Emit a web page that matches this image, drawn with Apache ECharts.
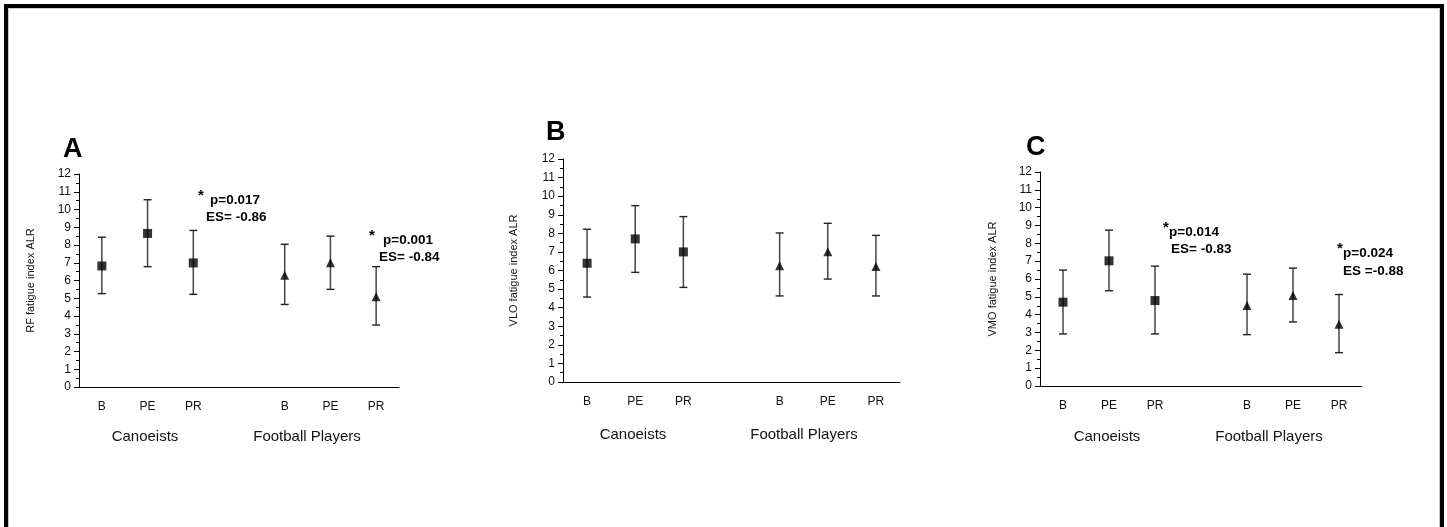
<!DOCTYPE html>
<html>
<head>
<meta charset="utf-8">
<script src="https://cdn.jsdelivr.net/npm/echarts@6/dist/echarts.min.js"></script>
<style>
  html, body { margin: 0; padding: 0; background: #fff; }
  #frame {
    position: absolute; left: 4px; top: 4px; width: 1432px; height: 522px;
    border: 4px solid #000; border-bottom: none;
  }
  #inner {
    position: absolute; left: 0; top: 0; right: 0; bottom: 0;
    border: 1px solid #c8c8c8; border-top-color: #d0d0d0;
  }
  #chart { position: absolute; left: 0; top: 0; width: 1447px; height: 527px; }
</style>
</head>
<body>
<div id="frame"><div id="inner"></div></div>
<div id="chart"></div>
<script>
// x categories: index 3 is the gap between the two groups
const categories = ['B', 'PE', 'PR', '', 'B', 'PE', 'PR'];
const slots = [0, 1, 2, 4, 5, 6];
const groups = ['Canoeists', 'Football Players'];

// panel A: RF
const rfMean = [6.82, 8.65, 6.99, 6.29, 7.0, 5.09];
const rfLow = [5.26, 6.78, 5.22, 4.65, 5.5, 3.49];
const rfHigh = [8.44, 10.55, 8.82, 8.04, 8.5, 6.78];

// panel B: VLO
const vloMean = [6.39, 7.7, 7.0, 6.26, 7.01, 6.21];
const vloLow = [4.57, 5.9, 5.09, 4.63, 5.54, 4.63];
const vloHigh = [8.22, 9.49, 8.9, 8.02, 8.54, 7.89];

// panel C: VMO
const vmoMean = [4.7, 7.02, 4.79, 4.51, 5.07, 3.46];
const vmoLow = [2.92, 5.34, 2.92, 2.88, 3.59, 1.87];
const vmoHigh = [6.5, 8.74, 6.72, 6.27, 6.61, 5.13];

const fontFamily = "'Liberation Sans', Arial, sans-serif";

const panels = [
  {
    letter: 'A', name: 'RF fatigue index ALR', mean: rfMean, low: rfLow, high: rfHigh,
    grid: { left: 79, top: 174, width: 320, height: 213 }, nameGap: 43,
    letterPos: [63, 150], groupPos: [[145, 437], [307, 437]],
    notes: [
      { star: [198, 196], lines: [[210, 200, 'p=0.017'], [206, 217, 'ES= -0.86']] },
      { star: [369, 236], lines: [[383, 240, 'p=0.001'], [379, 257, 'ES= -0.84']] },
    ],
  },
  {
    letter: 'B', name: 'VLO fatigue index ALR', mean: vloMean, low: vloLow, high: vloHigh,
    grid: { left: 563, top: 159, width: 337, height: 223 }, nameGap: 44,
    letterPos: [546, 133], groupPos: [[633, 435], [804, 435]],
    notes: [],
  },
  {
    letter: 'C', name: 'VMO fatigue index ALR', mean: vmoMean, low: vmoLow, high: vmoHigh,
    grid: { left: 1040, top: 172, width: 322, height: 214 }, nameGap: 42,
    letterPos: [1026, 148], groupPos: [[1107, 437], [1269, 437]],
    notes: [
      { star: [1163, 228], lines: [[1169, 232, 'p=0.014'], [1171, 249, 'ES= -0.83']] },
      { star: [1337, 249], lines: [[1343, 253, 'p=0.024'], [1343, 271, 'ES =-0.88']] },
    ],
  },
];

const chart = echarts.init(document.getElementById('chart'));

const grid = [];
const xAxis = [];
const yAxis = [];
const series = [];
const graphic = [];

const errorBar = (params, api) => {
  const x = api.value(0);
  const lo = api.coord([x, api.value(1)]);
  const hi = api.coord([x, api.value(2)]);
  const half = 4;
  const style = { stroke: '#222', lineWidth: 1.4 };
  return {
    type: 'group',
    children: [
      { type: 'line', shape: { x1: lo[0], y1: lo[1], x2: hi[0], y2: hi[1] }, style: { stroke: '#444', lineWidth: 1.5 } },
      { type: 'line', shape: { x1: hi[0] - half, y1: hi[1], x2: hi[0] + half, y2: hi[1] }, style },
      { type: 'line', shape: { x1: lo[0] - half, y1: lo[1], x2: lo[0] + half, y2: lo[1] }, style },
    ],
  };
};

panels.forEach((p, i) => {
  grid.push(p.grid);
  xAxis.push({
    gridIndex: i,
    type: 'category',
    data: categories,
    axisLine: { lineStyle: { color: '#000', width: 1 } },
    axisTick: {
      alignWithLabel: true,
      length: 7,
      interval: (idx, val) => val !== '',
      lineStyle: { color: '#000' },
    },
    axisLabel: { color: '#111', fontSize: 12, margin: 14, fontFamily, interval: 0 },
    splitLine: { show: false },
  });
  yAxis.push({
    gridIndex: i,
    type: 'value',
    min: 0,
    max: 12,
    interval: 1,
    name: p.name,
    nameLocation: 'middle',
    nameGap: p.nameGap,
    nameTextStyle: { color: '#111', fontSize: 11, fontFamily },
    axisLine: { show: true, lineStyle: { color: '#000', width: 1 } },
    axisTick: { show: true, length: 5, lineStyle: { color: '#000' } },
    minorTick: { show: true, splitNumber: 2, length: 3, lineStyle: { color: '#000' } },
    axisLabel: { color: '#111', fontSize: 12, margin: 8, fontFamily },
    splitLine: { show: false },
  });

  const bars = slots.map((s, k) => [s, p.low[k], p.high[k]]);
  series.push({
    type: 'custom',
    xAxisIndex: i,
    yAxisIndex: i,
    renderItem: errorBar,
    data: bars,
    z: 2,
    silent: true,
  });
  series.push({
    type: 'scatter',
    xAxisIndex: i,
    yAxisIndex: i,
    symbol: 'rect',
    symbolSize: 9,
    itemStyle: { color: '#000' },
    data: slots.slice(0, 3).map((s, k) => [s, p.mean[k]]),
    z: 3,
  });
  series.push({
    type: 'scatter',
    xAxisIndex: i,
    yAxisIndex: i,
    symbol: 'triangle',
    symbolSize: 9,
    itemStyle: { color: '#000' },
    data: slots.slice(3).map((s, k) => [s, p.mean[k + 3]]),
    z: 3,
  });

  graphic.push({
    type: 'text',
    left: p.letterPos[0],
    top: p.letterPos[1] - 14,
    style: { text: p.letter, fill: '#000', font: `bold 27px ${fontFamily}` },
  });
  groups.forEach((g, k) => {
    graphic.push({
      type: 'text',
      x: p.groupPos[k][0],
      y: p.groupPos[k][1],
      style: {
        text: g, fill: '#111', font: `15px ${fontFamily}`,
        align: 'center', verticalAlign: 'middle',
      },
    });
  });
  p.notes.forEach((n) => {
    graphic.push({
      type: 'text',
      x: n.star[0],
      y: n.star[1],
      style: { text: '*', fill: '#000', font: `bold 15px ${fontFamily}`, verticalAlign: 'middle' },
    });
    n.lines.forEach(([x, y, t]) => {
      graphic.push({
        type: 'text',
        x,
        y,
        style: { text: t, fill: '#000', font: `bold 13.5px ${fontFamily}`, verticalAlign: 'middle' },
      });
    });
  });
});

chart.setOption({
  animation: false,
  textStyle: { fontFamily },
  grid,
  xAxis,
  yAxis,
  series,
  graphic,
});
</script>
</body>
</html>
